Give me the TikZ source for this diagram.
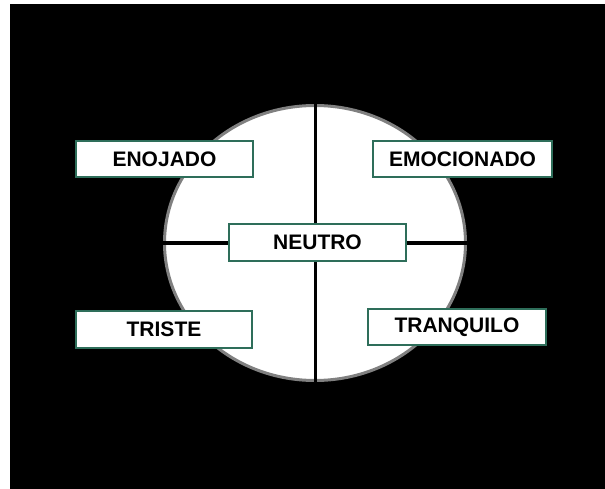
\documentclass[tikz,border=0pt]{standalone}
\usepackage{fontspec}
\setmainfont{Liberation Sans}
\usetikzlibrary{shapes.geometric}
\definecolor{boxline}{HTML}{2E6E5A}
\tikzset{
	mood/.style={draw=boxline, line width=1.3pt, fill=white, minimum width=177pt, minimum height=36pt, inner sep=0pt, font=\fontsize{21}{25}\selectfont\bfseries},
	axis/.style={line width=3pt}
}

\begin{document}
\begin{tikzpicture}[x=1pt, y=-1pt]
		%%%%% START %%%%%
		\useasboundingbox (0, 0) rectangle (605, 489);
		\fill[black] (10, 4) rectangle (605, 489);
		
		\node[ellipse, draw=black!50, line width=3pt, fill=white, minimum width=301pt, minimum height=275pt, inner sep=0pt] (wheel) at (315, 243) {};
		
		\draw[axis] (wheel.north) -- (wheel.south);
		\draw[axis] (wheel.west) -- (wheel.east);
		
		\node[mood] (enojado) at (164.5, 159) {ENOJADO};
		\node[mood, minimum width=179pt] (emocionado) at (462.5, 159) {EMOCIONADO};
		\node[mood, minimum height=37pt] (neutro) at (317.5, 242.5) {NEUTRO};
		\node[mood, minimum width=176pt, minimum height=37pt] (triste) at (164, 329.5) {TRISTE};
		\node[mood, minimum width=178pt] (tranquilo) at (457, 327) {TRANQUILO};
		%%%%% END %%%%%
	\end{tikzpicture}
\end{document}
